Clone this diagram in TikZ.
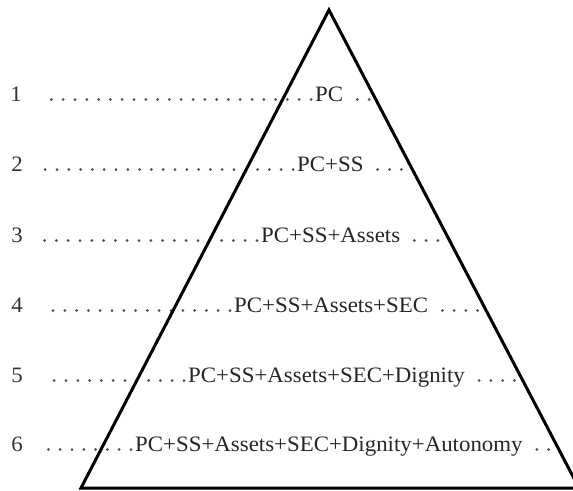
\documentclass[tikz,border=0pt]{standalone}
\usepackage{fontspec}
\setmainfont[FakeStretch=1.04]{Liberation Serif}
\begin{document}
\begin{tikzpicture}[x=1pt,y=-1pt,
  num/.style={inner sep=0pt,anchor=base,text=black!80,font=\fontsize{22}{26}\selectfont},
  lab/.style={inner sep=0pt,anchor=base west,text=black!85,font=\fontsize{22}{26}\selectfont},
  leader/.style={draw=black!70,line width=3pt,line cap=round,dash pattern=on 0pt off 11.8pt},
  tri/.style={draw=black,line width=3pt,line join=miter}]
\useasboundingbox (0,0) rectangle (573,490);
\clip (0,0) rectangle (573,490);
% triangle
\coordinate (apex) at (329,10);
\coordinate (bl) at (81,488);
\coordinate (br) at (579,488);
% numbers
\node[num] (n1) at (16,101) {1};
\node[num] (n2) at (17,171) {2};
\node[num] (n3) at (17,242) {3};
\node[num] (n4) at (17,312) {4};
\node[num] (n5) at (17,382) {5};
\node[num] (n6) at (17,451) {6};
% labels
\node[lab] (l1) at (315,101) {PC};
\node[lab] (l2) at (297,171) {PC+SS};
\node[lab] (l3) at (261,242) {PC+SS+Assets};
\node[lab] (l4) at (234,312) {PC+SS+Assets+SEC};
\node[lab] (l5) at (188,382) {PC+SS+Assets+SEC+Dignity};
\node[lab] (l6) at (135,451) {PC+SS+Assets+SEC+Dignity+Autonomy};
% trailing ends
\coordinate (e1) at (376,99.5);
\coordinate (e2) at (410,169.5);
\coordinate (e3) at (450,240.5);
\coordinate (e4) at (484,310.5);
\coordinate (e5) at (522,380.5);
\coordinate (e6) at (552,449.5);
% leaders
\foreach \i in {1,...,6}{
  \draw[leader] ([xshift=-4pt,yshift=1.5pt]l\i.base west) -- ([xshift=20pt,yshift=1.5pt]n\i.base east);
  \draw[leader] ([xshift=14pt,yshift=1.5pt]l\i.base east) -- (e\i);
}
\draw[tri] (apex) -- (bl) -- (br) -- cycle;
\end{tikzpicture}
\end{document}
